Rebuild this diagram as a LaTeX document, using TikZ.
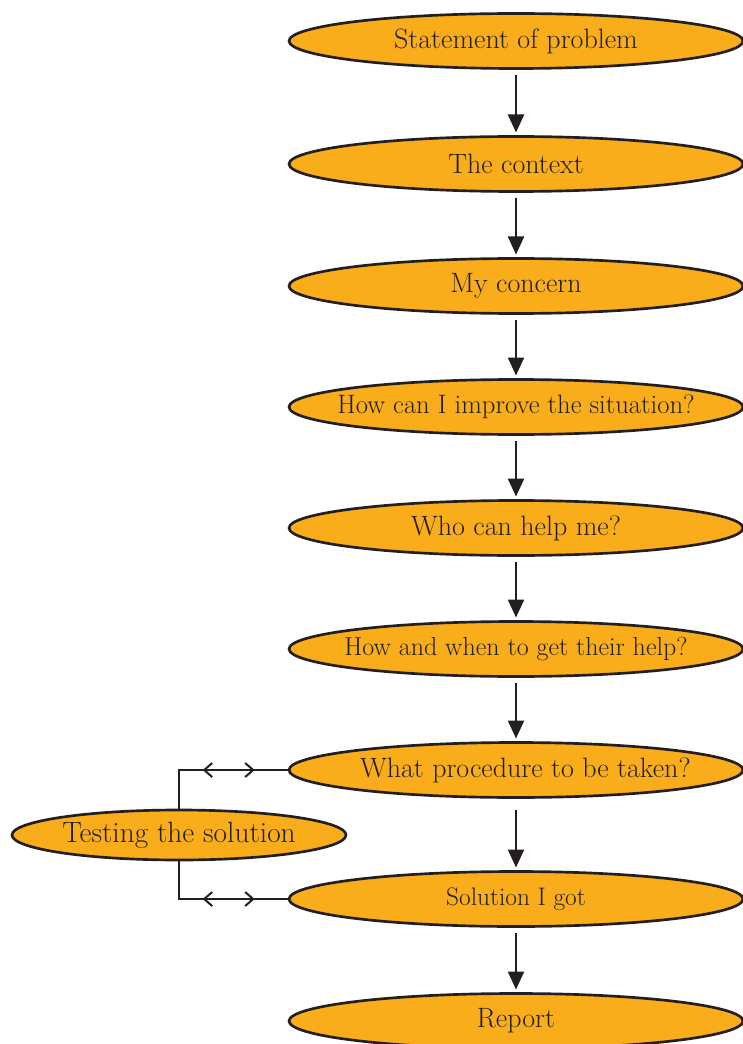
\documentclass[tikz,border=0pt]{standalone}
\usepackage{tikz}
\usetikzlibrary{shapes.geometric,arrows.meta,decorations.markings}
\definecolor{boxorange}{RGB}{249,173,27}
\definecolor{inkdark}{RGB}{35,31,32}

\begin{document}
\begin{tikzpicture}[x=0.75pt,y=-0.75pt,
  stage/.style={ellipse,draw=inkdark,fill=boxorange,line width=2pt,
    inner xsep=-40pt,inner ysep=0pt,
    minimum width=340.5pt,minimum height=41.25pt,text=inkdark,
    font=\fontsize{21}{24}\selectfont},
  fs/.style={font=\fontsize{#1}{24}\selectfont},
  flow/.style={draw=inkdark,line width=1.8pt,
    -{Triangle[length=13.5pt,width=12pt]},shorten <=4pt,shorten >=2pt},
  loopline/.style={draw=inkdark,line width=1.5pt,postaction={decorate},
    decoration={markings,
      mark=at position 24.75pt with {\arrowreversed{Straight Barb[length=6pt,width=10.5pt,line width=1.5pt]}},
      mark=at position 63.75pt with {\arrow{Straight Barb[length=6pt,width=10.5pt,line width=1.5pt]}}}}]
\useasboundingbox (0,0) rectangle (742,1044);
\node[stage] (problem)   at (516,41)  {Statement of problem};
\node[stage] (context)   at (516,164) {The context};
\node[stage] (concern)   at (516,286) {My concern};
\node[stage,fs=20] (improve) at (516,407) {How can I improve the situation?};
\node[stage] (who)       at (516,528) {Who can help me?};
\node[stage,fs=19.5] (when) at (516,649) {How and when to get their help?};
\node[stage] (procedure) at (516,770) {\hspace*{14pt}What procedure to be taken?};
\node[stage,fs=19] (solution) at (516,899) {Solution I got};
\node[stage] (report)    at (516,1021) {Report};
\node[stage,fs=22,minimum width=250.5pt,minimum height=37.5pt] (testing) at (179,835) {Testing the solution};
% main chain
\draw[flow] (problem) -- (context);
\draw[flow] (context) -- (concern);
\draw[flow] (concern) -- (improve);
\draw[flow] (improve) -- (who);
\draw[flow] (who) -- (when);
\draw[flow] (when) -- (procedure);
\draw[flow,shorten <=8pt] (procedure) -- (solution);
\draw[flow] (solution) -- (report);
% feedback through testing
\draw[loopline] (procedure.west) -| (testing.north);
\draw[loopline] (solution.west) -| (testing.south);
\end{tikzpicture}
\end{document}
